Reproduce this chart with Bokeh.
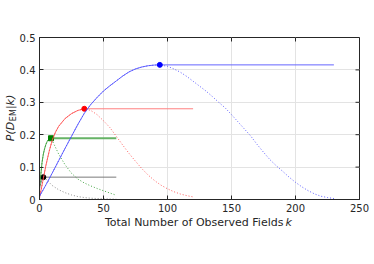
import numpy as np
from bokeh.plotting import figure
from bokeh.models import Range1d, Label, FixedTicker
from bokeh.embed import file_html
from bokeh.resources import INLINE

# ---- data ----
blue_k = [0, 5, 10, 15, 20, 25, 30, 35, 40, 45, 50, 55, 60, 65, 70, 75, 80, 85, 90, 94,
          100, 105, 110, 115, 120, 125, 130, 135, 140, 145, 150, 155, 160, 165, 170, 175,
          180, 185, 190, 195, 200, 205, 210, 215, 220, 225, 230]
blue_p = [0.010, 0.045, 0.082, 0.120, 0.158, 0.195, 0.232, 0.266, 0.293, 0.315, 0.335, 0.351,
          0.366, 0.381, 0.394, 0.403, 0.409, 0.413, 0.415, 0.4155,
          0.411, 0.403, 0.393, 0.380, 0.365, 0.350, 0.335, 0.318, 0.300, 0.283, 0.262, 0.240,
          0.218, 0.196, 0.170, 0.146, 0.123, 0.104, 0.087, 0.069, 0.053, 0.039, 0.027, 0.017,
          0.010, 0.006, 0.003]
blue_end_k = 230

red_k = [0, 2.5, 5, 7.5, 10, 12.5, 15, 20, 25, 30, 35, 40, 45, 50, 55, 60, 65, 70, 75, 80,
         85, 90, 95, 100, 105, 110, 115, 120]
red_p = [0.005, 0.055, 0.105, 0.148, 0.184, 0.208, 0.226, 0.250, 0.265, 0.275, 0.280, 0.275,
         0.262, 0.243, 0.222, 0.195, 0.168, 0.142, 0.118, 0.095, 0.075, 0.058, 0.044, 0.033,
         0.024, 0.017, 0.012, 0.008]
red_end_k = 120

green_k = [0, 1, 2, 3, 4, 5, 6, 7, 8, 9, 12, 15, 20, 25, 30, 35, 40, 45, 50, 55, 60]
green_p = [0.035, 0.075, 0.115, 0.140, 0.157, 0.170, 0.179, 0.185, 0.188, 0.189, 0.165, 0.140,
           0.107, 0.081, 0.063, 0.051, 0.042, 0.034, 0.027, 0.020, 0.013]
green_end_k = 60

black_k = [0, 1, 2, 3, 5, 7.5, 10, 15, 20, 25, 30, 35, 40, 50, 60]
black_p = [0.035, 0.050, 0.062, 0.069, 0.063, 0.053, 0.043, 0.030, 0.021, 0.014, 0.009,
           0.006, 0.004, 0.002, 0.001]
black_end_k = 60

x_ticks = [0, 50, 100, 150, 200, 250]
y_ticks = [0, 0.1, 0.2, 0.3, 0.4, 0.5]
x_tick_labels = ["0", "50", "100", "150", "200", "250"]
y_tick_labels = ["0", "0.1", "0.2", "0.3", "0.4", "0.5"]

FONT = "DejaVu Sans"
AX = "#262626"

p = figure(width=374, height=264, output_backend="svg", toolbar_location=None,
           x_range=Range1d(0, 250), y_range=Range1d(0, 0.5),
           min_border_left=39, min_border_right=15, min_border_top=37, min_border_bottom=65)
p.background_fill_color = "white"
p.border_fill_color = "white"
p.outline_line_color = AX
p.outline_line_width = 1

for ax in (p.xaxis[0], p.yaxis[0]):
    ax.major_tick_in = 4
    ax.major_tick_out = 0
    ax.minor_tick_in = 0
    ax.minor_tick_out = 0
    ax.axis_line_color = AX
    ax.major_tick_line_color = AX
    ax.major_label_text_font = FONT
    ax.major_label_text_font_size = "10px"
    ax.major_label_text_color = AX
    ax.major_label_standoff = 4

p.xaxis[0].ticker = FixedTicker(ticks=x_ticks)
p.yaxis[0].ticker = FixedTicker(ticks=y_ticks)
p.xaxis[0].major_label_overrides = {t: l for t, l in zip(x_ticks, x_tick_labels)}
p.yaxis[0].major_label_overrides = {t: l for t, l in zip(y_ticks, y_tick_labels)}

p.xgrid.ticker = FixedTicker(ticks=x_ticks)
p.ygrid.ticker = FixedTicker(ticks=y_ticks)
p.xgrid.grid_line_color = "#e3e3e3"
p.ygrid.grid_line_color = "#e3e3e3"

# inward ticks on the top and right edges of the box
p.ray(x=x_ticks, y=[y_ticks[-1]] * len(x_ticks), length=4, length_units="screen",
      angle=-np.pi / 2, line_color=AX, line_width=1)
p.ray(x=[x_ticks[-1]] * len(y_ticks), y=y_ticks, length=4, length_units="screen",
      angle=np.pi, line_color=AX, line_width=1)

series = [
    (black_k, black_p, black_end_k, "#808080", "#7a7a7a", "#000000", "circle", 1.0),
    (green_k, green_p, green_end_k, "#2f9a2f", "#66b366", "#008000", "square", 2.2),
    (red_k, red_p, red_end_k, "#ff4d4d", "#ff8080", "#ff0000", "circle", 1.0),
    (blue_k, blue_p, blue_end_k, "#4d4dff", "#6666ff", "#0000ff", "circle", 1.0),
]

for ks, ps, ek, dcol, scol, mcol, mk, sw in series:
    ks = np.array(ks, dtype=float)
    ps = np.array(ps, dtype=float)
    p.line(ks, ps, line_color=dcol, line_width=1, line_dash="1 2", line_alpha=0.9)
    i = int(np.argmax(ps))
    p.line(list(ks[: i + 1]), list(ps[: i + 1]), line_color=dcol, line_width=1, line_alpha=0.85)
    p.line([ks[i], ek], [ps[i], ps[i]], line_color=scol, line_width=sw)
    p.scatter([ks[i]], [ps[i]], marker=mk, size=5, fill_color=mcol, line_color=mcol)

# axis titles as labels placed in side panels (not clipped by the frame)
lab_kw = dict(text_font=FONT, text_color=AX, text_font_size="11px")
p.add_layout(Label(x=190.6, y=-0.072, text="Total Number of Observed Fields",
                   text_align="right", text_baseline="middle", **lab_kw), "below")
p.add_layout(Label(x=192.2, y=-0.072, text="k", text_font_style="italic",
                   text_align="left", text_baseline="middle", **lab_kw), "below")

ang = np.pi / 2
p.add_layout(Label(x=-22.7, y=0.180, text="P(D", angle=ang, text_font_style="italic",
                   text_align="left", text_baseline="middle", **lab_kw), "above")
p.add_layout(Label(x=-20.3, y=0.2418, text="EM", angle=ang, text_font=FONT, text_color=AX,
                   text_font_size="8px", text_align="left", text_baseline="middle"), "above")
p.add_layout(Label(x=-22.7, y=0.279, text="|k)", angle=ang, text_font_style="italic",
                   text_align="left", text_baseline="middle", **lab_kw), "right")

open("out.html", "w").write(file_html(p, INLINE))
